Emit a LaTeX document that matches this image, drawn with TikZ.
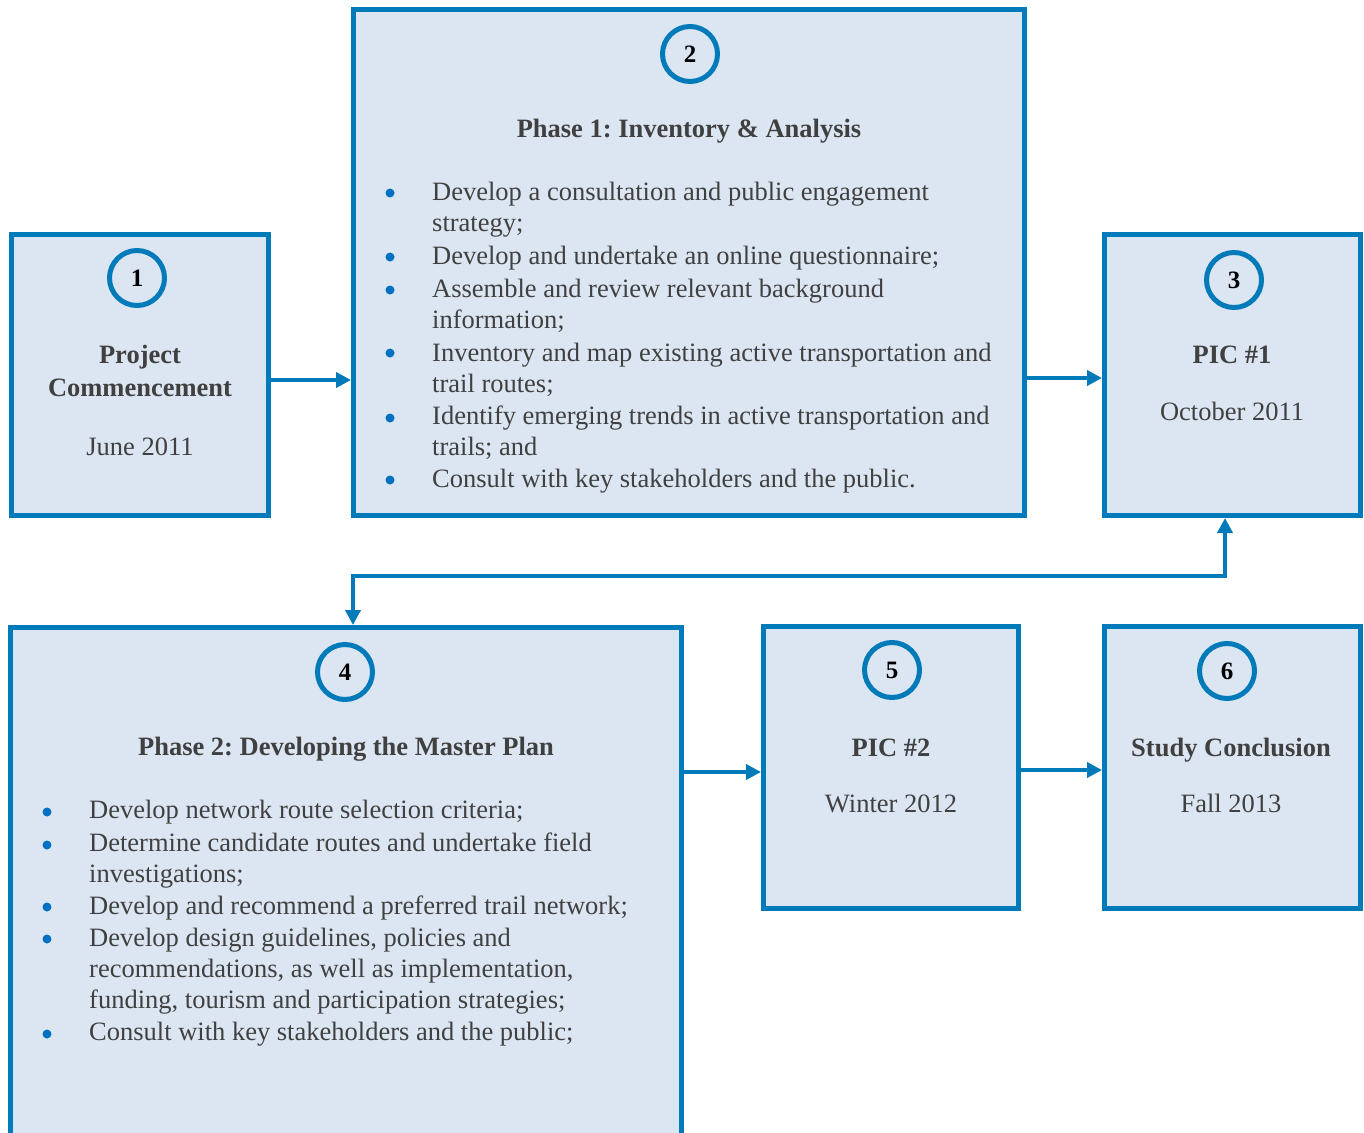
\documentclass[tikz,border=0pt]{standalone}
\usepackage{fontspec}
\setmainfont{Liberation Serif}
\usetikzlibrary{arrows.meta}
\definecolor{boxblue}{RGB}{0,122,185}
\definecolor{boxfill}{RGB}{220,230,242}
\definecolor{textgray}{RGB}{64,64,64}
\definecolor{dotblue}{RGB}{0,112,192}
\frenchspacing
\tikzset{
  phasebox/.style={rectangle,draw=boxblue,fill=boxfill,line width=5pt,inner sep=0pt},
  numring/.style={circle,draw=boxblue,fill=boxfill,line width=5pt,minimum size=55pt,inner sep=0pt,
    text=black,font=\fontsize{25}{31}\selectfont\bfseries},
  itembullet/.style={circle,fill=dotblue,minimum size=9pt,inner sep=0pt},
  itemtext/.style={anchor=base west,align=left,inner sep=0pt,text=textgray,
    font=\fontsize{26.5}{31}\selectfont},
  headtext/.style={anchor=base,inner sep=0pt,text=textgray,font=\fontsize{26.5}{31}\selectfont\bfseries},
  datetext/.style={anchor=base,inner sep=0pt,text=textgray,font=\fontsize{26.5}{31}\selectfont},
  flowline/.style={draw=boxblue,line width=4.5pt,-{Triangle[length=15pt,width=15pt]}}
}
\begin{document}
\begin{tikzpicture}[x=1pt,y=-1pt]
\useasboundingbox (0,0) rectangle (1364,1132);
\clip (0,0) rectangle (1364,1132);
\node[phasebox,minimum width=257pt,minimum height=281pt] (box1) at (140,375) {};
\node[phasebox,minimum width=671pt,minimum height=506pt] (box2) at (689,262.5) {};
\node[phasebox,minimum width=256pt,minimum height=281pt] (box3) at (1232.5,375) {};
\node[phasebox,minimum width=671pt,minimum height=522.5pt] (box4) at (346,888.75) {};
\node[phasebox,minimum width=255pt,minimum height=282pt] (box5) at (891,767.5) {};
\node[phasebox,minimum width=256pt,minimum height=282pt] (box6) at (1232.5,767.5) {};
\node[numring] (n1) at (137,278) {1};
\node[numring] (n2) at (690,54) {2};
\node[numring] (n3) at (1234,280) {3};
\node[numring] (n4) at (345,672) {4};
\node[numring] (n5) at (892,670) {5};
\node[numring] (n6) at (1227,671) {6};
\node[headtext] (h1a) at (140,363) {Project};
\node[headtext] (h1b) at (140,396) {Commencement};
\node[datetext] (w1) at (140,455) {June 2011};
\node[headtext] (h2) at (689,137) {Phase 1: Inventory \& Analysis};
\node[headtext] (h3) at (1232,363) {PIC \#1};
\node[datetext] (w3) at (1232,420) {October 2011};
\node[headtext] (h4) at (346,755) {Phase 2: Developing the Master Plan};
\node[headtext] (h5) at (891,756) {PIC \#2};
\node[datetext] (w5) at (891,812) {Winter 2012};
\node[headtext] (h6) at (1231,756) {Study Conclusion};
\node[datetext] (w6) at (1231,812) {Fall 2013};
\node[itembullet] (d21) at (390,193) {};
\node[itembullet] (d22) at (390,257) {};
\node[itembullet] (d23) at (390,290) {};
\node[itembullet] (d24) at (390,353) {};
\node[itembullet] (d25) at (390,418) {};
\node[itembullet] (d26) at (390,480) {};
\node[itemtext] (t21) at (432,231) {Develop a consultation and public engagement\\strategy;};
\node[itemtext] (t22) at (432,264) {Develop and undertake an online questionnaire;};
\node[itemtext] (t23) at (432,328) {Assemble and review relevant background\\information;};
\node[itemtext] (t24) at (432,392) {Inventory and map existing active transportation and\\trail routes;};
\node[itemtext] (t25) at (432,455) {Identify emerging trends in active transportation and\\trails; and};
\node[itemtext] (t26) at (432,487) {Consult with key stakeholders and the public.};
\node[itembullet] (d41) at (47,812) {};
\node[itembullet] (d42) at (47,845) {};
\node[itembullet] (d43) at (47,907) {};
\node[itembullet] (d44) at (47,939) {};
\node[itembullet] (d45) at (47,1034) {};
\node[itemtext] (t41) at (89,818) {Develop network route selection criteria;};
\node[itemtext] (t42) at (89,882) {Determine candidate routes and undertake field\\investigations;};
\node[itemtext] (t43) at (89,914) {Develop and recommend a preferred trail network;};
\node[itemtext] (t44) at (89,1008) {Develop design guidelines, policies and\\recommendations, as well as implementation,\\funding, tourism and participation strategies;};
\node[itemtext] (t45) at (89,1040) {Consult with key stakeholders and the public;};
\draw[flowline] ([yshift=-5pt]box1.east) -- ([yshift=-5pt]box1.east -| box2.west);
\draw[flowline] ([yshift=-3pt]box3.west -| box2.east) -- ([yshift=-3pt]box3.west);
\draw[flowline] ([yshift=-4.5pt]box5.west -| box4.east) -- ([yshift=-4.5pt]box5.west);
\draw[flowline] ([yshift=-2.5pt]box5.east) -- ([yshift=-2.5pt]box5.east -| box6.west);
\coordinate (turn) at (1225,576);
\draw[flowline,{Triangle[length=15pt,width=15pt]}-{Triangle[length=15pt,width=15pt]}] ([xshift=-7.5pt]box3.south) -- (turn) -| ([xshift=7pt]box4.north);
\end{tikzpicture}
\end{document}
